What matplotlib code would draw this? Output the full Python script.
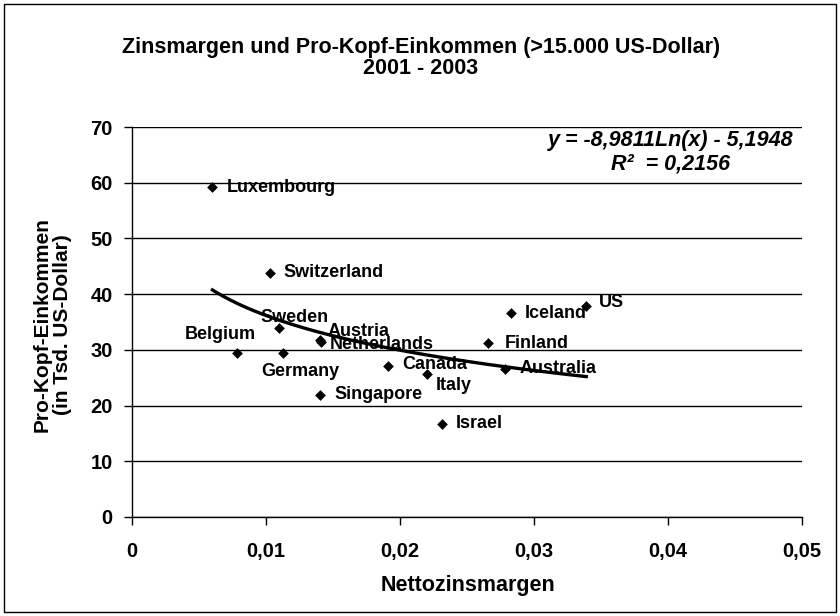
import matplotlib
matplotlib.use("Agg")
import matplotlib.pyplot as plt
from matplotlib.patches import Rectangle
from matplotlib.font_manager import FontProperties
import numpy as np

plt.rcParams['font.family'] = ['Liberation Sans', 'DejaVu Sans']

# data
countries = ['Luxembourg', 'Switzerland', 'Sweden', 'Belgium', 'Germany',
             'Austria', 'Netherlands', 'Singapore', 'Canada', 'Italy',
             'Israel', 'Iceland', 'US', 'Finland', 'Australia']
margin = [0.0060, 0.0103, 0.0110, 0.0078, 0.0113,
          0.0140, 0.0141, 0.0140, 0.0191, 0.0220,
          0.0231, 0.0283, 0.0339, 0.0266, 0.0278]
income = [59.2, 43.8, 33.9, 29.4, 29.4,
          31.8, 31.4, 21.9, 27.1, 25.7,
          16.7, 36.6, 37.9, 31.2, 26.6]

# logarithmic trend line as printed in the chart
coef_a = -8.9811
coef_b = -5.1948
r2 = 0.2156

# label offsets in pixels (dx, dy, ha)
label_pos = {
    'Luxembourg': (14, 0, 'left'),
    'Switzerland': (13, 0, 'left'),
    'Sweden': (15, 11, 'center'),
    'Belgium': (-16, 19, 'center'),
    'Germany': (17, -18, 'center'),
    'Austria': (8, 8, 'left'),
    'Netherlands': (9, -2, 'left'),
    'Singapore': (15, 0, 'left'),
    'Canada': (14, 2, 'left'),
    'Italy': (9, -12, 'left'),
    'Israel': (14, 0, 'left'),
    'Iceland': (14, 0, 'left'),
    'US': (13, 3, 'left'),
    'Finland': (16, 0, 'left'),
    'Australia': (15, 0, 'left'),
}


def comma_fmt(v, pos=None):
    if v == 0:
        return '0'
    return ('%g' % v).replace('.', ',')


def fmt_num(v):
    return ('%.4f' % v).replace('.', ',')


def bold_font(size):
    return FontProperties(family='Liberation Sans', weight='bold', size=size)


fig = plt.figure(figsize=(8.4, 6.16), dpi=100)
fig.patch.set_facecolor('white')
fig.patches.append(Rectangle((4 / 840, 4 / 616), 832 / 840, 608 / 616,
                             transform=fig.transFigure, fill=False,
                             edgecolor='black', linewidth=1.0))

ax = fig.add_axes([132 / 840, 1 - 517 / 616, 670 / 840, 390 / 616])

ax.scatter(margin, income, marker='D', s=30, color='black', zorder=3,
           linewidths=0)

xs = np.linspace(min(margin), max(margin), 200)
ax.plot(xs, coef_a * np.log(xs) + coef_b, color='black', linewidth=2.4,
        zorder=2)

for name, x, y in zip(countries, margin, income):
    dx, dy, ha = label_pos[name]
    ax.annotate(name, (x, y), xytext=(dx, dy), textcoords='offset pixels',
                ha=ha, va='center', fontproperties=bold_font(13),
                color='black', zorder=4)

# trend line equation
eq_x = (671 - 132) / 670
ax.text(eq_x, 1 - (140 - 127) / 390,
        'y = %sLn(x) - %s' % (fmt_num(coef_a), fmt_num(-coef_b)),
        transform=ax.transAxes, ha='center', va='center', fontsize=15.5,
        style='italic', fontweight='bold')
ax.text(eq_x, 1 - (164 - 127) / 390,
        'R\u00b2  = %s' % fmt_num(r2),
        transform=ax.transAxes, ha='center', va='center', fontsize=15.5,
        style='italic', fontweight='bold')

ax.set_xlim(0, 0.05)
ax.set_ylim(0, 70)
ax.set_xticks(np.arange(0, 0.051, 0.01))
ax.set_yticks(np.arange(0, 71, 10))
ax.xaxis.set_major_formatter(plt.FuncFormatter(comma_fmt))
ax.yaxis.set_major_formatter(plt.FuncFormatter(comma_fmt))
ax.tick_params(direction='out', length=6, width=1, labelsize=14.5,
               color='black')
ax.tick_params(axis='x', pad=12)
ax.tick_params(axis='y', pad=8)
for lbl in ax.get_xticklabels() + ax.get_yticklabels():
    lbl.set_fontweight('bold')

ax.yaxis.grid(True, color='black', linewidth=1)
ax.set_axisbelow(True)
for side in ['top', 'right']:
    ax.spines[side].set_visible(False)
for side in ['left', 'bottom']:
    ax.spines[side].set_linewidth(1)

ftr = fig.transFigure
ax.text(421 / 840, 1 - 47 / 616,
        'Zinsmargen und Pro-Kopf-Einkommen (>15.000 US-Dollar)',
        transform=ftr, ha='center', va='center', clip_on=False,
        fontproperties=bold_font(15.5))
ax.text(421 / 840, 1 - 69 / 616, '2001 - 2003', transform=ftr,
        ha='center', va='center', clip_on=False,
        fontproperties=bold_font(15.5))

ax.text(42 / 840, 1 - 325 / 616, 'Pro-Kopf-Einkommen', transform=ftr,
        rotation=90, ha='center', va='center', clip_on=False,
        fontproperties=bold_font(15))
ax.text(63 / 840, 1 - 325 / 616, '(in Tsd. US-Dollar)', transform=ftr,
        rotation=90, ha='center', va='center', clip_on=False,
        fontproperties=bold_font(15))

ax.text(468 / 840, 1 - 586 / 616, 'Nettozinsmargen', transform=ftr,
        ha='center', va='center', clip_on=False,
        fontproperties=bold_font(15.5))

fig.savefig('out.png', dpi=100)
